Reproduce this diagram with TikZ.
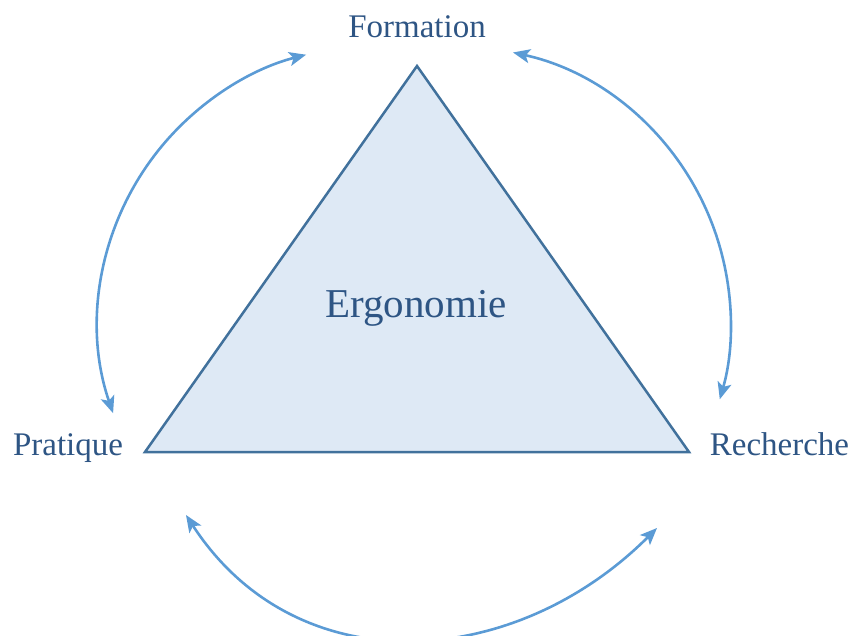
\documentclass[tikz,border=0pt]{standalone}
\usepackage{fontspec}
\setmainfont{Liberation Serif}
\usetikzlibrary{arrows.meta,calc}
\definecolor{txtblue}{HTML}{2E5584}
\definecolor{triline}{HTML}{41719C}
\definecolor{trifill}{HTML}{DEE9F5}
\definecolor{arrblue}{HTML}{5B9BD5}
\tikzset{
  lbl/.style={text=txtblue,font=\fontsize{33}{36}\selectfont,anchor=base,inner sep=0pt},
  biglbl/.style={text=txtblue,font=\fontsize{41}{46}\selectfont,anchor=base,inner sep=0pt},
  tri/.style={draw=triline,fill=trifill,line width=2.5pt,line join=miter},
  arr/.style={draw=arrblue,line width=2.6pt,{Stealth[length=17pt,width=14pt,inset=4pt]}-{Stealth[length=17pt,width=14pt,inset=4pt]}}
}
\begin{document}
\begin{tikzpicture}[x=1pt,y=1pt]
\useasboundingbox (0,0) rectangle (852,-636);
% triangle
\coordinate (top) at (417,-66);
\coordinate (bl) at (145,-452);
\coordinate (br) at (689,-452);
\path[tri] (top) -- (bl) -- (br) -- cycle;
% labels
\node[lbl] (formation) at (417,-38) {Formation};
\node[lbl] (pratique) at (68,-455) {Pratique};
\node[lbl] (recherche) at (779.5,-455) {Recherche};
\node[biglbl] (ergonomie) at (416,-318) {Ergonomie};
% arc ends
\coordinate (lc) at (375,-323);
\coordinate (la) at ($(lc)+(199:277)$);
\coordinate (rc) at (453.5,-323);
\coordinate (ra) at ($(rc)+(77.6:277)$);
\coordinate (ba) at (186,-515);
\coordinate (bb) at (657,-528);
% connectors
\draw[arr] (la) arc[start angle=199,end angle=104.4,radius=277];
\draw[arr] (ra) arc[start angle=77.6,end angle=-16,radius=277];
\draw[arr] (ba) to[out=-57,in=-135,looseness=1.1] (bb);
\end{tikzpicture}
\end{document}
